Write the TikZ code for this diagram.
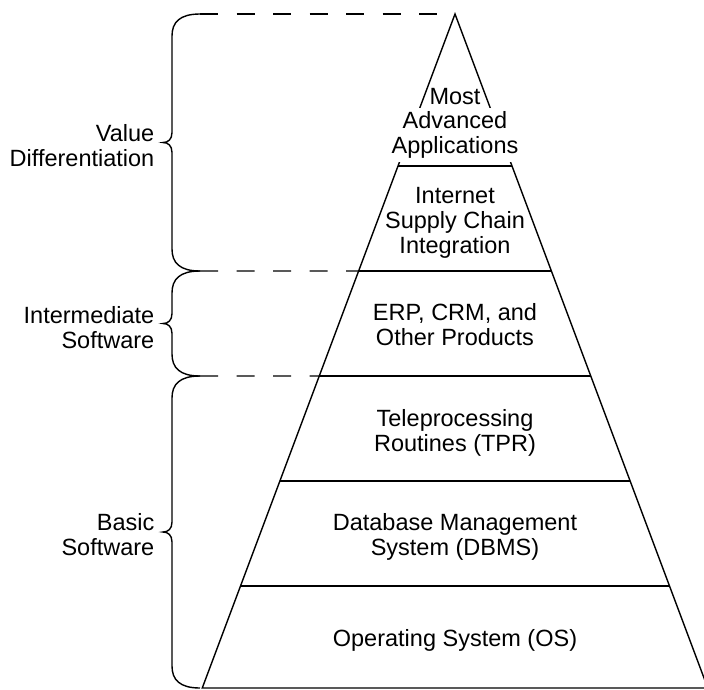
\documentclass[tikz,border=0pt]{standalone}
\usepackage{fontspec}
\setmainfont{Liberation Sans}
\usetikzlibrary{calc,positioning}

\begin{document}
\begin{tikzpicture}[
        x=1pt, y=-1pt,
        line width=1.4pt,
        font=\fontsize{23.5}{25}\selectfont,
        layer/.style={align=center, inner sep=0pt},
        side/.style={align=right, anchor=east, inner sep=0pt},
        guide/.style={dash pattern=on 18pt off 18.5pt},
    ]
        \useasboundingbox (0,0) rectangle (704,689);

        % Pyramid outline
        \coordinate (apex) at (455,14);
        \coordinate (bl) at (202.25,688);
        \coordinate (br) at (707.75,688);
        \draw (bl) -- (apex) -- (br) -- cycle;

        % Layer dividers
        \foreach \lvl in {166,271,376,481,586} {
            \coordinate (L\lvl) at ($(apex)!{(\lvl-14)/674}!(bl)$);
            \coordinate (R\lvl) at ($(apex)!{(\lvl-14)/674}!(br)$);
            \draw[line width=1.6pt] (L\lvl) -- (R\lvl);
        }

        % Dashed guides from the braces
        \coordinate (g1) at (200,14);
        \coordinate (g2) at (200,271);
        \coordinate (g3) at (200,376);
        \draw[guide] (g1) -- (apex);
        \draw[guide] (g2) -- (L271);
        \draw[guide] (g3) -- (L376);

        % Braces
        \foreach \ya/\yb in {14/271, 271/376, 376/688} {
            \pgfmathsetmacro\ym{(\ya+\yb)/2}
            \draw (200,\ya) .. controls (180,\ya) and (172,\ya+8) .. (172,\ya+22)
                -- (172,\ym-10) .. controls (172,\ym-3) and (168,\ym) .. (163,\ym)
                .. controls (168,\ym) and (172,\ym+3) .. (172,\ym+10)
                -- (172,\yb-22) .. controls (172,\yb-8) and (180,\yb) .. (200,\yb);
        }

        % Layer labels
        \node[layer] (most) at (455,97) {Most};
        \node[layer, fill=white, inner ysep=4pt] (adv) at (455,135) {Advanced\\Applications};
        \node[layer] (isci) at (455,222.5) {Internet\\Supply Chain\\Integration};
        \node[layer] (erp) at (455,324.5) {ERP, CRM, and\\Other Products};
        \node[layer] (tpr) at (455,433) {Teleprocessing\\Routines (TPR)};
        \node[layer] (dbms) at (455,537) {Database Management\\System (DBMS)};
        \node[layer] (os) at (455,640.5) {Operating System (OS)};

        % Side labels
        \node[side] (valdiff) at (155,145.5) {Value\\Differentiation};
        \node[side] (inter) at (155,327.5) {Intermediate\\Software};
        \node[side] (basic) at (155,535) {Basic\\Software};
    \end{tikzpicture}
\end{document}
